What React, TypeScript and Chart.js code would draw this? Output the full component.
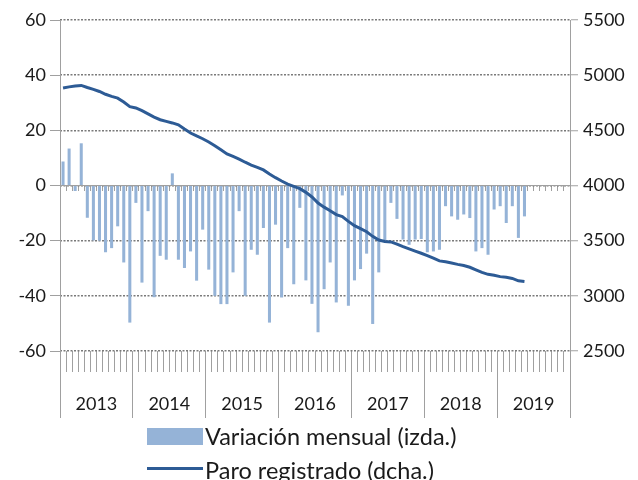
import { useEffect, useRef } from 'react';
import { Chart, registerables } from 'chart.js';

Chart.register(...registerables);

const years = ['2013', '2014', '2015', '2016', '2017', '2018', '2019'];
const monthNames = ['Ene', 'Feb', 'Mar', 'Abr', 'May', 'Jun', 'Jul', 'Ago', 'Sep', 'Oct', 'Nov', 'Dic'];
const categories = years.flatMap((y) => monthNames.map((m) => `${m} ${y}`));

// Variación mensual (miles), eje izquierdo
const variacionMensual = [
  8.7, 13.4, -2, 15.3, -11.7, -19.9, -20, -24.2, -22.7, -14.8, -27.9, -49.7,
  -6.3, -35.2, -9.3, -40.5, -25.5, -26.9, 4.4, -26.9, -29.9, -23.9, -34.5, -16,
  -30.5, -40, -43, -43, -31.5, -9.3, -40, -23.3, -25.1, -15.4, -49.7, -14.2,
  -40.6, -22.7, -35.8, -8.1, -34.4, -42.9, -53.2, -37.6, -27.9, -42.4, -3.6, -43.6,
  -34.4, -30.3, -24.7, -50.2, -31.5, -20, -6.3, -12.1, -19.6, -21.5, -19.6, -19.4,
  -24.2, -23.9, -23.3, -7.5, -11.2, -12.4, -10.5, -11.8, -23.9, -22.7, -25.1, -8.7,
  -7.5, -13.6, -7.5, -19, -11.2,
];

// Paro registrado (miles), eje derecho
const paroRegistrado = [
  4884, 4894, 4902, 4907, 4888, 4871, 4852, 4827, 4808, 4792, 4757, 4715,
  4703, 4678, 4649, 4620, 4596, 4581, 4567, 4550, 4512, 4476, 4449, 4424,
  4394, 4360, 4323, 4286, 4263, 4239, 4211, 4185, 4164, 4141, 4104, 4071,
  4041, 4013, 3992, 3971, 3938, 3896, 3841, 3804, 3772, 3736, 3718, 3675,
  3636, 3609, 3581, 3539, 3506, 3492, 3489, 3469, 3446, 3426, 3406, 3386,
  3365, 3342, 3317, 3308, 3297, 3285, 3275, 3259, 3235, 3212, 3195, 3186,
  3174, 3168, 3158, 3136, 3130,
];

const leftTicks = { min: -60, max: 60, step: 20 };
const rightTicks = { min: 2500, max: 5500, step: 500 };

const BAR_COLOR = '#95b3d7';
const LINE_COLOR = '#2d5b95';
const AXIS_COLOR = '#a0a0a0';
const GRID_COLOR = '#7a7a7a';
const TEXT_COLOR = '#1a1a1a';
const FONT = 'Lato';

export default function App() {
  const ref = useRef<HTMLCanvasElement>(null);

  useEffect(() => {
    document.body.style.margin = '0';
    const canvas = ref.current;
    if (!canvas) return;
    const chart = new Chart(canvas, {
      data: {
        labels: categories,
        datasets: [
          {
            type: 'line',
            label: 'Paro registrado (dcha.)',
            data: paroRegistrado,
            yAxisID: 'y2',
            xAxisID: 'x',
            borderColor: LINE_COLOR,
            borderWidth: 3,
            pointRadius: 0,
            tension: 0,
            fill: false,
            order: 0,
          },
          {
            type: 'bar',
            label: 'Variación mensual (izda.)',
            data: variacionMensual,
            yAxisID: 'y',
            xAxisID: 'x',
            backgroundColor: BAR_COLOR,
            barPercentage: 0.5,
            categoryPercentage: 1,
            order: 1,
          },
        ],
      },
      options: {
        responsive: false,
        animation: false,
        layout: { padding: { top: 20, bottom: 61, left: 0, right: 0 } },
        plugins: { legend: { display: false }, tooltip: { enabled: false } },
        scales: {
          x: {
            type: 'category',
            position: { y: 0 },
            offset: true,
            grid: {
              offset: true,
              drawOnChartArea: false,
              drawTicks: true,
              tickLength: 5,
              color: AXIS_COLOR,
              tickColor: AXIS_COLOR,
            },
            border: { display: true, color: AXIS_COLOR, width: 1 },
            ticks: { display: false, autoSkip: false },
          },
          xm: {
            type: 'linear',
            position: 'bottom',
            weight: 0,
            offset: false,
            min: 0,
            max: categories.length,
            grid: {
              offset: false,
              drawOnChartArea: false,
              drawTicks: true,
              tickLength: 21,
              color: AXIS_COLOR,
              tickColor: AXIS_COLOR,
            },
            border: { display: false },
            ticks: { display: false, stepSize: 1, autoSkip: false, maxTicksLimit: 1000 },
            afterFit: (s: any) => {
              s.height = 21;
            },
          },
          xy: {
            type: 'linear',
            position: 'bottom',
            weight: 1,
            offset: false,
            min: 0,
            max: categories.length,
            grid: {
              offset: false,
              drawOnChartArea: false,
              drawTicks: true,
              tickLength: 46,
              color: (c: any) => (c.tick && c.tick.value % 12 === 0 ? AXIS_COLOR : 'rgba(0,0,0,0)'),
              tickColor: (c: any) => (c.tick && c.tick.value % 12 === 0 ? AXIS_COLOR : 'rgba(0,0,0,0)'),
            },
            border: { display: false },
            ticks: {
              stepSize: 6,
              autoSkip: false,
              maxTicksLimit: 1000,
              maxRotation: 0,
              minRotation: 0,
              padding: -25,
              color: TEXT_COLOR,
              font: { family: FONT, size: 18 },
              callback: (v: any) => {
                const n = Number(v);
                return n % 12 === 6 ? years[(n - 6) / 12] : '';
              },
            },
            afterFit: (s: any) => {
              s.height = 47;
            },
          },
          y: {
            type: 'linear',
            position: 'left',
            min: leftTicks.min,
            max: leftTicks.max,
            grid: {
              drawOnChartArea: false,
              drawTicks: true,
              tickLength: 10,
              color: AXIS_COLOR,
              tickColor: AXIS_COLOR,
            },
            border: { display: true, color: AXIS_COLOR, width: 1 },
            ticks: {
              stepSize: leftTicks.step,
              padding: 4,
              color: TEXT_COLOR,
              font: { family: FONT, size: 18 },
            },
            afterFit: (s: any) => {
              s.width = 60;
            },
          },
          y2: {
            type: 'linear',
            position: 'right',
            min: rightTicks.min,
            max: rightTicks.max,
            grid: {
              drawOnChartArea: true,
              drawTicks: true,
              tickLength: 8,
              lineWidth: 1.5,
              tickWidth: 1,
              color: GRID_COLOR,
              tickColor: AXIS_COLOR,
            },
            border: { display: true, color: AXIS_COLOR, width: 1, dash: [2, 1.5] },
            ticks: {
              stepSize: rightTicks.step,
              padding: 5,
              color: TEXT_COLOR,
              font: { family: FONT, size: 18 },
              callback: (v: any) => String(v),
            },
            afterFit: (s: any) => {
              s.width = 68;
            },
          },
        },
      },
    } as any);
    return () => chart.destroy();
  }, []);

  const legendText: React.CSSProperties = {
    position: 'absolute',
    left: 205,
    fontFamily: FONT,
    fontSize: 23.5,
    color: TEXT_COLOR,
    lineHeight: '26px',
    whiteSpace: 'nowrap',
  };

  return (
    <div style={{ position: 'relative', width: 638, height: 480, overflow: 'hidden', background: '#fff' }}>
      <canvas
        ref={ref}
        width={638}
        height={480}
        style={{ position: 'absolute', left: 0, top: 0, width: 638, height: 480 }}
      />
      <div style={{ position: 'absolute', left: 147, top: 428, width: 56, height: 17, background: BAR_COLOR }} />
      <div style={{ ...legendText, top: 423 }}>Variación mensual (izda.)</div>
      <div style={{ position: 'absolute', left: 147, top: 467, width: 56, height: 3, background: LINE_COLOR }} />
      <div style={{ ...legendText, top: 457 }}>Paro registrado (dcha.)</div>
    </div>
  );
}
